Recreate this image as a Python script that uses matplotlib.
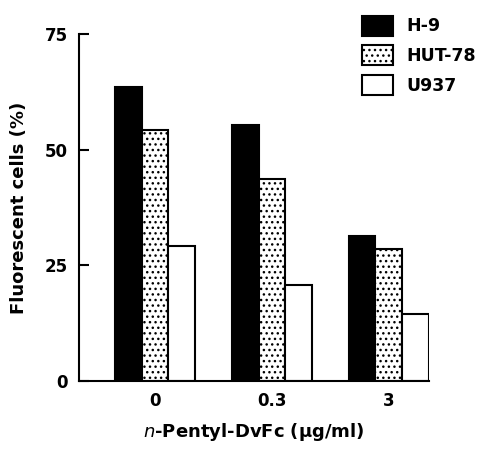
import numpy as np
import matplotlib.pyplot as plt

doses = ["0", "0.3", "3"]
h9 = [63.6, 55.3, 31.4]
hut78 = [54.2, 43.8, 28.5]
u937 = [29.2, 20.7, 14.6]
series_names = ["H-9", "HUT-78", "U937"]

plt.rcParams["font.family"] = "DejaVu Sans"
plt.rcParams["hatch.linewidth"] = 1.0

fig = plt.figure(figsize=(4.84, 4.5), dpi=100)
ax = fig.add_axes([0.163, 0.153, 0.723, 0.771])

x = np.arange(len(doses))
w = 0.228
styles = [
    dict(color="black", edgecolor="black"),
    dict(color="white", edgecolor="black", hatch="..."),
    dict(color="white", edgecolor="black"),
]
handles = []
for i, (vals, st) in enumerate(zip([h9, hut78, u937], styles)):
    b = ax.bar(x + (i - 1) * w, vals, w, linewidth=1.5, label=series_names[i], **st)
    handles.append(b)

ax.set_xlim(-0.65, 2 + 1.5 * w)
ax.set_ylim(0, 75)
ax.set_yticks([0, 25, 50, 75])
ax.set_xticks(x)
ax.set_xticklabels(doses, fontsize=12, fontweight="bold")
ax.tick_params(axis="x", length=0, pad=8)
ax.tick_params(axis="y", direction="in", length=7, width=1.5, labelsize=12, pad=8)
for lab in ax.get_yticklabels():
    lab.set_fontweight("bold")

for s in ["top", "right"]:
    ax.spines[s].set_visible(False)
for s in ["left", "bottom"]:
    ax.spines[s].set_linewidth(1.5)

ax.set_ylabel("Fluorescent cells (%)", fontsize=13, fontweight="bold", labelpad=12)
ax.set_xlabel("$n$-Pentyl-DvFc (μg/ml)", fontsize=13, fontweight="bold", labelpad=8)

fig.legend(handles=handles, loc="upper left", bbox_to_anchor=(0.715, 1.0),
           frameon=False, prop={"weight": "bold", "size": 12.5},
           handlelength=1.8, handleheight=1.4, labelspacing=0.55, handletextpad=0.8)

fig.savefig("out.png", dpi=100)
